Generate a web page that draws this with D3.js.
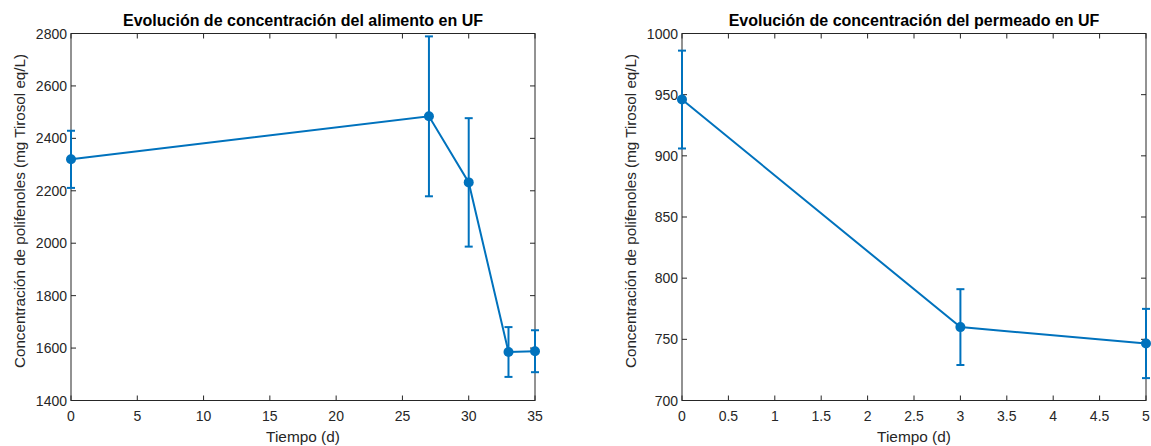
<!DOCTYPE html>
<html>
<head>
<meta charset="utf-8">
<script src="https://cdn.jsdelivr.net/npm/d3@7"></script>
<style>
  body { margin: 0; background: #fff; }
  svg { display: block; font-family: "Liberation Sans", Arial, sans-serif; }
</style>
</head>
<body>
<svg id="chart" width="1151" height="446"></svg>
<script>
// alimento
var tiempoAlim = [0, 27, 30, 33, 35];
var concAlim = [2320, 2484, 2232, 1585, 1588];
var errAlim = [109, 305, 245, 95, 80];
var xTicksAlim = [0, 5, 10, 15, 20, 25, 30, 35];
var yTicksAlim = [1400, 1600, 1800, 2000, 2200, 2400, 2600, 2800];

// permeado
var tiempoPerm = [0, 3, 5];
var concPerm = [946, 760, 746.6];
var errPerm = [40, 31, 28.3];
var xTicksPerm = [0, 0.5, 1, 1.5, 2, 2.5, 3, 3.5, 4, 4.5, 5];
var yTicksPerm = [700, 750, 800, 850, 900, 950, 1000];

var svg = d3.select("#chart");
var blue = "#0072BD",
    axisCol = "#262626";

function panel(opts) {
    var left = opts.left, right = opts.right, top = 33.5, bottom = 400.5;
    var x = d3.scaleLinear().domain(opts.xdom).range([left, right]);
    var y = d3.scaleLinear().domain(opts.ydom).range([bottom, top]);
    var g = svg.append("g");

    // box
    g.append("rect")
        .attr("x", left).attr("y", top)
        .attr("width", right - left).attr("height", bottom - top)
        .attr("fill", "none").attr("stroke", axisCol).attr("stroke-width", 1);

    // ticks, inward, on all four sides
    var tl = 5;
    opts.xticks.forEach(function (t) {
        g.append("line").attr("x1", x(t)).attr("x2", x(t)).attr("y1", bottom).attr("y2", bottom - tl).attr("stroke", axisCol);
        g.append("line").attr("x1", x(t)).attr("x2", x(t)).attr("y1", top).attr("y2", top + tl).attr("stroke", axisCol);
        g.append("text").attr("x", x(t)).attr("y", bottom + 20)
            .attr("text-anchor", "middle").attr("font-size", 14).attr("fill", axisCol)
            .text(t);
    });
    opts.yticks.forEach(function (t) {
        g.append("line").attr("x1", left).attr("x2", left + tl).attr("y1", y(t)).attr("y2", y(t)).attr("stroke", axisCol);
        g.append("line").attr("x1", right).attr("x2", right - tl).attr("y1", y(t)).attr("y2", y(t)).attr("stroke", axisCol);
        g.append("text").attr("x", left - 4).attr("y", y(t) + 5)
            .attr("text-anchor", "end").attr("font-size", 14).attr("fill", axisCol)
            .text(t);
    });

    // labels
    g.append("text").attr("x", (left + right) / 2).attr("y", 26)
        .attr("text-anchor", "middle").attr("font-size", 16).attr("font-weight", "bold").attr("fill", "#000")
        .text(opts.title);
    g.append("text").attr("x", (left + right) / 2).attr("y", 442)
        .attr("text-anchor", "middle").attr("font-size", 15.4).attr("fill", axisCol)
        .text("Tiempo (d)");
    g.append("text")
        .attr("transform", "translate(" + (left - 46) + "," + ((top + bottom) / 2 - 6) + ") rotate(-90)")
        .attr("text-anchor", "middle").attr("font-size", 15.2).attr("fill", axisCol)
        .text("Concentración de polifenoles (mg Tirosol eq/L)");

    var pts = opts.xs.map(function (d, i) { return { t: d, c: opts.ys[i], e: opts.es[i] }; });

    // error bars
    var eb = g.append("g").attr("stroke", blue).attr("stroke-width", 2).attr("fill", "none");
    pts.forEach(function (p) {
        eb.append("line").attr("x1", x(p.t)).attr("x2", x(p.t)).attr("y1", y(p.c - p.e)).attr("y2", y(p.c + p.e));
        eb.append("line").attr("x1", x(p.t) - 4).attr("x2", x(p.t) + 4).attr("y1", y(p.c - p.e)).attr("y2", y(p.c - p.e));
        eb.append("line").attr("x1", x(p.t) - 4).attr("x2", x(p.t) + 4).attr("y1", y(p.c + p.e)).attr("y2", y(p.c + p.e));
    });

    var line = d3.line().x(d => x(d.t)).y(d => y(d.c));
    g.append("path").datum(pts).attr("d", line)
        .attr("fill", "none").attr("stroke", blue).attr("stroke-width", 2);

    g.selectAll("circle.pt").data(pts).enter().append("circle")
        .attr("cx", d => x(d.t)).attr("cy", d => y(d.c)).attr("r", 5)
        .attr("fill", blue);
}

panel({
    left: 71, right: 535,
    xdom: [0, 35], ydom: [1400, 2800],
    xticks: xTicksAlim, yticks: yTicksAlim,
    xs: tiempoAlim, ys: concAlim, es: errAlim,
    title: "Evolución de concentración del alimento en UF"
});

panel({
    left: 682, right: 1146,
    xdom: [0, 5], ydom: [700, 1000],
    xticks: xTicksPerm, yticks: yTicksPerm,
    xs: tiempoPerm, ys: concPerm, es: errPerm,
    title: "Evolución de concentración del permeado en UF"
});
</script>
</body>
</html>
